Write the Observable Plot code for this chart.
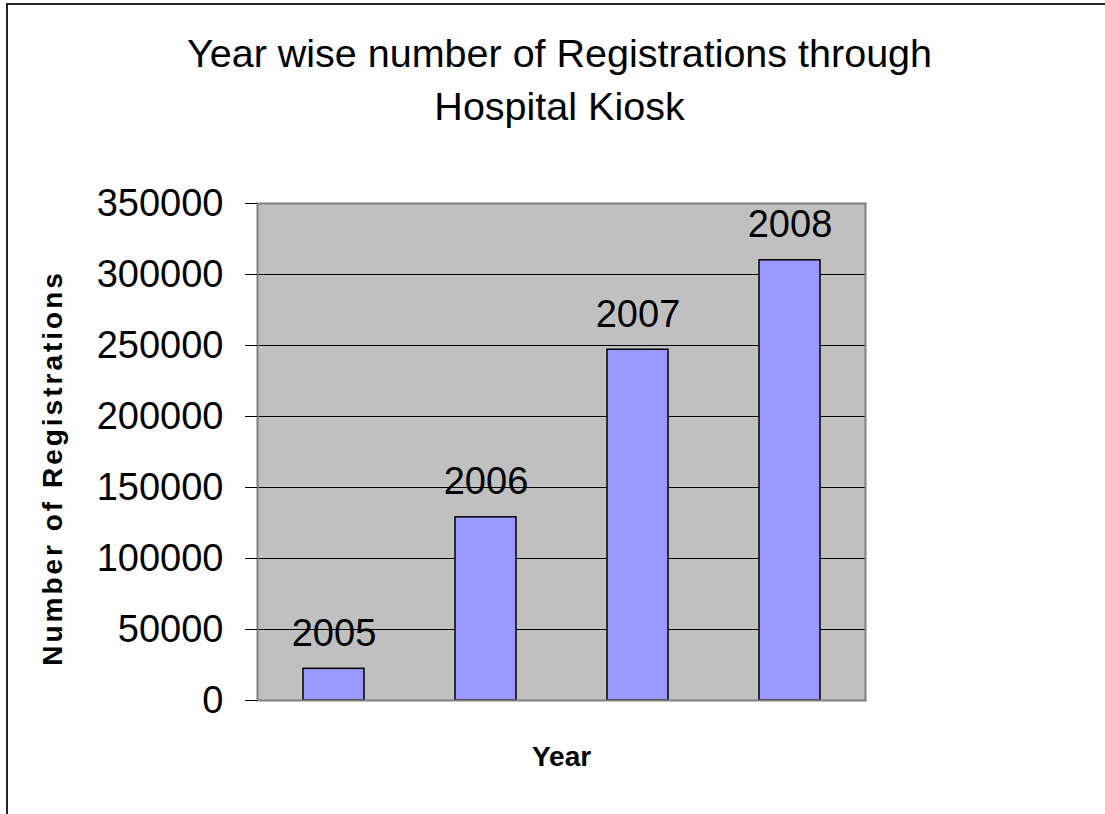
<!DOCTYPE html>
<html>
<head>
<meta charset="utf-8">
<script src="https://cdn.jsdelivr.net/npm/d3@7"></script>
<script src="https://cdn.jsdelivr.net/npm/@observablehq/plot@0.6"></script>
<style>
  html, body { margin: 0; padding: 0; background: #fff; }
  #wrap { position: relative; width: 1105px; height: 814px; overflow: hidden; font-family: "Liberation Sans", Arial, sans-serif; }
  #border { position: absolute; left: 6px; top: 3px; width: 1200px; height: 900px; border-left: 2px solid #222; border-top: 2px solid #222; box-sizing: border-box; }
  #title { position: absolute; left: 7px; top: 27px; width: 1105px; text-align: center; font-size: 39.5px; line-height: 53px; color: #000; }
  #chart { position: absolute; left: 0; top: 150px; }
</style>
</head>
<body>
<div id="wrap">
  <div id="border"></div>
  <div id="title">Year wise number of Registrations through<br>Hospital Kiosk</div>
  <div id="chart"></div>
</div>
<script>
const years = ["2005", "2006", "2007", "2008"];
const registrations = [22300, 129000, 247000, 310000];
const yTicks = [0, 50000, 100000, 150000, 200000, 250000, 300000, 350000];
const yAxisTitle = "Number of Registrations";
const xAxisTitle = "Year";

const data = years.map((y, i) => ({year: y, value: registrations[i]}));

const chart = Plot.plot({
  width: 1105,
  height: 664,
  marginTop: 53,
  marginBottom: 114,
  marginLeft: 257,
  marginRight: 240,
  style: {background: "transparent", fontFamily: "Liberation Sans, Arial, sans-serif", color: "#000", overflow: "visible"},
  x: {domain: years, paddingInner: 0.6, paddingOuter: 0.3, axis: null},
  y: {domain: [0, 350000], ticks: yTicks},
  marks: [
    Plot.frame({fill: "#c0c0c0", stroke: null}),
    Plot.gridY(yTicks, {stroke: "#000", strokeOpacity: 1, strokeWidth: 1}),
    Plot.barY(data, {x: "year", y: "value", fill: "#9999ff", stroke: "#000", strokeWidth: 1.5}),
    Plot.text(data, {x: "year", y: "value", text: "year", dy: -35, lineAnchor: "middle", fontSize: 38, fill: "#000"}),
    Plot.frame({stroke: "#808080", strokeWidth: 2}),
    Plot.axisY({ticks: yTicks, tickSize: 12, tickPadding: 22, fontSize: 38, tickFormat: d => String(d), label: null, stroke: "#000"}),
    Plot.text([yAxisTitle], {frameAnchor: "left", textAnchor: "middle", dx: -204, dy: 16, rotate: -90, fontSize: 28, fontWeight: "bold", lineAnchor: "middle", fill: "#000"}),
    Plot.text([xAxisTitle], {frameAnchor: "bottom", textAnchor: "middle", dy: 57, fontSize: 28, fontWeight: "bold", lineAnchor: "middle", fill: "#000"})
  ]
});

d3.select(chart).selectAll("text").filter(function() { return this.textContent === yAxisTitle; })
  .style("letter-spacing", "3px");

document.getElementById("chart").appendChild(chart);
</script>
</body>
</html>
